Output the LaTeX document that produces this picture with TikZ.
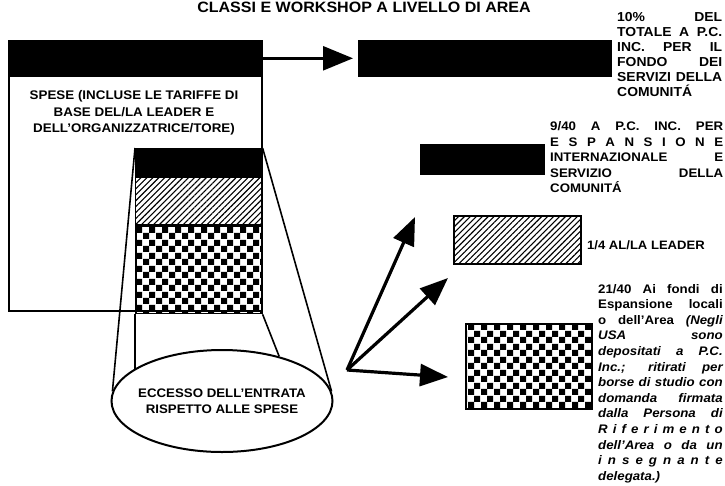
\documentclass[tikz,border=0pt]{standalone}
\usepackage{fontspec}
\setmainfont{Liberation Sans}[FakeStretch=1.07]
\usetikzlibrary{arrows.meta,shapes.geometric,patterns.meta}

\tikzdeclarepattern{
  name=checks,
  type=uncolored,
  bottom left={(0pt,0pt)},
  top right={(13pt,13pt)},
  tile size={(13pt,13pt)},
  code={
    \fill (0pt,0pt) rectangle (6.5pt,6.5pt);
    \fill (6.5pt,6.5pt) rectangle (13pt,13pt);
  }
}

\tikzset{
  every node/.style={inner sep=0pt, font={\bfseries\fontsize{12.4}{16.3}\selectfont}},
  boxnode/.style={draw, line width=1.6pt, anchor=north west},
  solidbox/.style={boxnode, fill=black},
  hatchbox/.style={boxnode, pattern={Lines[angle=45,distance=4.2pt,line width=1.1pt]}},
  checkbox/.style={boxnode, pattern=checks},
  sidetext/.style={anchor=north west, align=left},
  thinline/.style={line width=1.6pt},
  headarrow/.style={-{Triangle[length=30pt,width=24pt]}, line width=2.6pt},
  fatarrow/.style={-{Triangle[length=28pt,width=22pt]}, line width=3.2pt}
}

\newcommand{\jl}[2]{\makebox[#1][s]{#2}}

\begin{document}
\begin{tikzpicture}[x=1pt,y=-1pt]
  \useasboundingbox (0,0) rectangle (725,485);
  \node[anchor=base, font={\bfseries\fontsize{15}{18}\selectfont}] (title) at (364,12) {CLASSI E WORKSHOP A LIVELLO DI AREA};

  % expenses box and its column
  \node[boxnode, minimum width=253pt, minimum height=270pt] (spese) at (8,40) {};
  \node[solidbox, minimum width=253pt, minimum height=35pt] (income) at (8,40) {};
  \node[anchor=north, align=center, font={\bfseries\fontsize{12.5}{16.6}\selectfont}] (spesetxt) at (134,90.5)
    {SPESE (INCLUSE LE TARIFFE DI\\BASE DEL/LA LEADER E\\DELL’ORGANIZZATRICE/TORE)};
  \node[solidbox, minimum width=126pt, minimum height=27pt] (share) at (135,148) {};
  \node[hatchbox, minimum width=126pt, minimum height=48pt] (lead) at (share.south west) {};
  \node[checkbox, minimum width=126pt, minimum height=87pt] (local) at (lead.south west) {};

  \node[draw, ellipse, line width=2pt, minimum width=221pt, minimum height=102pt] (excess) at (222,401) {};
  \node[align=center] (excesstxt) at (excess.center) {ECCESSO DELL’ENTRATA\\RISPETTO ALLE SPESE};

  \draw[thinline] (share.north west) -- (excess.175);
  \draw[thinline] (share.north east) -- (excess.5);
  \draw[thinline] (local.south west) -- (local.south west |- excess.160);
  \draw[thinline] (local.south east) -- (excess.38);

  % right side
  \node[solidbox, minimum width=252pt, minimum height=35pt] (pcfund) at (358,40) {};
  \draw[headarrow, shorten >=5pt] (income.east) -- (pcfund.west);
  \node[sidetext, font={\bfseries\fontsize{13}{15}\selectfont}] (pcfundtxt) at (617,12)
    {\jl{105pt}{10\% DEL}\\\jl{105pt}{TOTALE A P.C.}\\\jl{105pt}{INC. PER IL}\\
     \jl{105pt}{FONDO DEI}\\\jl{105pt}{SERVIZI DELLA}\\COMUNITÁ};

  \node[solidbox, minimum width=123pt, minimum height=29pt] (intl) at (420,144) {};
  \node[sidetext, font={\bfseries\fontsize{12.4}{15.5}\selectfont}] (intltxt) at (550,121.5)
    {\jl{173pt}{9/40 A P.C. INC. PER}\\\jl{173pt}{E S P A N S I O N E}\\
     \jl{173pt}{INTERNAZIONALE E}\\\jl{173pt}{SERVIZIO DELLA}\\COMUNITÁ};

  \node[hatchbox, minimum width=127pt, minimum height=48pt] (leader) at (453,215) {};
  \node[anchor=west, font={\bfseries\fontsize{12.2}{15}\selectfont}] (leadertxt) at (587,245) {1/4 AL/LA LEADER};

  \node[checkbox, minimum width=126pt, minimum height=85pt] (area) at (465,323) {};
  \node[sidetext, font={\bfseries\fontsize{12.4}{15.6}\selectfont}] (areatxt) at (598,284)
    {\jl{124.5pt}{21/40 Ai fondi di}\\\jl{124.5pt}{Espansione locali}\\
     \jl{124.5pt}{o dell’Area \itshape (Negli}\\\jl{124.5pt}{\itshape USA sono}\\
     \jl{124.5pt}{\itshape depositati a P.C.}\\\jl{124.5pt}{\itshape Inc.; ritirati per}\\
     \jl{124.5pt}{\itshape borse di studio con}\\\jl{124.5pt}{\itshape domanda firmata}\\
     \jl{124.5pt}{\itshape dalla Persona di}\\\jl{124.5pt}{\itshape R i f e r i m e n t o}\\
     \jl{124.5pt}{\itshape dell’Area o da un}\\\jl{124.5pt}{\itshape i n s e g n a n t e}\\
     {\itshape delegata.)}};

  % arrows from the excess
  \coordinate (hub) at (347,370);
  \coordinate (tipup) at (415,217);
  \coordinate (tipmid) at (448,278);
  \coordinate (tiplow) at (448,377);
  \draw[fatarrow] (hub) -- (tipup);
  \draw[fatarrow] (hub) -- (tipmid);
  \draw[fatarrow] (hub) -- (tiplow);
\end{tikzpicture}
\end{document}
